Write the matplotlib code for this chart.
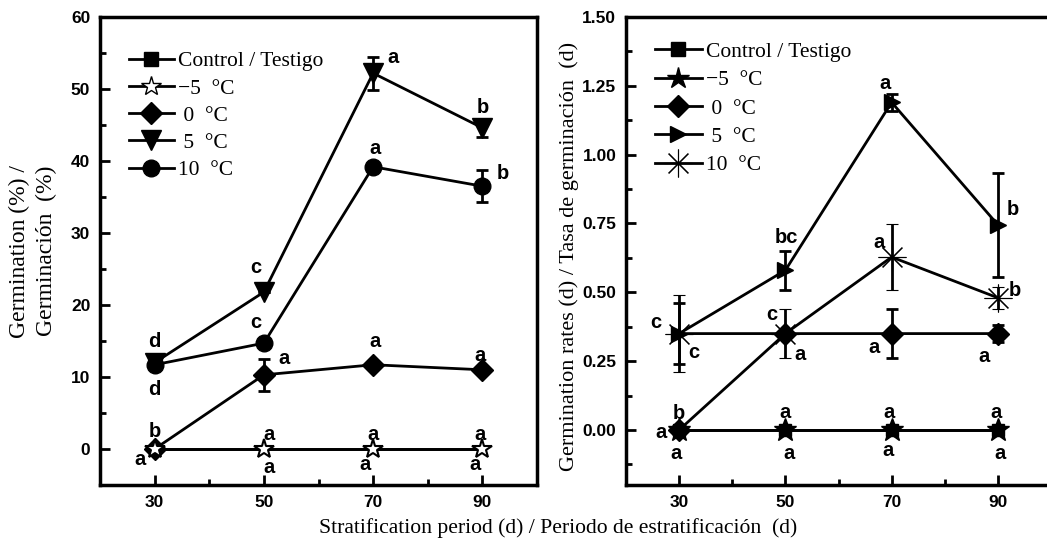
import matplotlib.pyplot as plt
from matplotlib.lines import Line2D
from matplotlib.ticker import MultipleLocator

# stratification period (d)
days = [30, 50, 70, 90]

# germination (%)
g_control = [0, 0, 0, 0]
g_m5 = [0, 0, 0, 0]
g_0 = [0, 10.3, 11.7, 11.0]
g_5 = [12.0, 21.8, 52.2, 44.6]
g_10 = [11.7, 14.7, 39.2, 36.5]
g_0_err = [0, 2.2, 0, 0]
g_5_err = [0, 0, 2.3, 1.2]
g_10_err = [0, 0, 0, 2.2]

# germination rate (d)
r_control = [0, 0, 0, 0]
r_m5 = [0, 0, 0, 0]
r_0 = [0, 0.35, 0.35, 0.35]
r_5 = [0.35, 0.58, 1.19, 0.745]
r_10 = [0.35, 0.35, 0.628, 0.48]
r_0_err = [0, 0, 0.09, 0.03]
r_5_err = [0.11, 0.07, 0.03, 0.19]
r_10_err = [0.14, 0.09, 0.12, 0.04]

legend_labels = ['Control / Testigo', '\u22125  \u00b0C', ' 0  \u00b0C', ' 5  \u00b0C', '10  \u00b0C']

# significance letters (x, y, letter)
g_letters = [(30, 14.9, 'd'), (30, 8.3, 'd'), (30, 2.4, 'b'), (27.4, -1.4, 'a'),
             (48.6, 25.2, 'c'), (48.6, 17.6, 'c'), (53.6, 12.5, 'a'), (51.0, 2.0, 'a'), (51.0, -2.6, 'a'),
             (73.6, 54.4, 'a'), (70.4, 41.8, 'a'), (70.4, 14.9, 'a'), (70.0, 2.0, 'a'), (68.6, -2.1, 'a'),
             (90.0, 47.4, 'b'), (93.8, 38.3, 'b'), (89.6, 13.0, 'a'), (89.6, 2.0, 'a'), (88.7, -2.2, 'a')]
r_letters = [(25.7, 0.39, 'c'), (32.8, 0.28, 'c'), (30.0, 0.06, 'b'), (26.6, -0.01, 'a'), (29.4, -0.085, 'a'),
             (50.2, 0.70, 'bc'), (47.4, 0.42, 'c'), (52.8, 0.275, 'a'), (50.0, 0.065, 'a'), (50.6, -0.085, 'a'),
             (68.7, 1.26, 'a'), (67.7, 0.68, 'a'), (66.6, 0.30, 'a'), (69.5, 0.065, 'a'), (69.3, -0.075, 'a'),
             (92.8, 0.80, 'b'), (93.2, 0.505, 'b'), (87.4, 0.265, 'a'), (89.6, 0.065, 'a'), (90.4, -0.085, 'a')]

serif = 'Liberation Serif'
sans = 'Liberation Sans'

fig = plt.figure(figsize=(10.47, 5.44), dpi=100)
W, H = 1047, 544
ax1 = fig.add_axes([100 / W, 1 - 485 / H, 437 / W, 468 / H])
ax2 = fig.add_axes([626 / W, 1 - 485 / H, 425 / W, 468 / H])

lw = 2
kw = dict(color='black', lw=lw, capsize=4, capthick=2, elinewidth=2)
asterisk = (8, 2, 0)

# left panel
ax1.plot(days, g_control, marker='s', ms=5, color='black', lw=lw, zorder=2)
ax1.plot(days, g_m5, marker='*', ms=15, mfc='white', mec='black', mew=1.5, color='black', lw=lw, zorder=4)
ax1.errorbar(days, g_0, yerr=g_0_err, marker='D', ms=11, zorder=3, **kw)
ax1.errorbar(days, g_5, yerr=g_5_err, marker='v', ms=14, zorder=3, **kw)
ax1.errorbar(days, g_10, yerr=g_10_err, marker='o', ms=12, zorder=3, **kw)

ax1.set_xlim(20, 100)
ax1.set_ylim(-5, 60)
ax1.yaxis.set_major_locator(MultipleLocator(10))
ax1.yaxis.set_minor_locator(MultipleLocator(5))
for x, y, t in g_letters:
    ax1.text(x, y, t, ha='center', va='center', fontsize=14.5, fontweight='bold', family=sans)

h1 = [Line2D([], [], color='black', lw=lw, marker='s', ms=10),
      Line2D([], [], color='black', lw=lw, marker='*', ms=15, mfc='white', mew=1),
      Line2D([], [], color='black', lw=lw, marker='D', ms=11),
      Line2D([], [], color='black', lw=lw, marker='v', ms=14),
      Line2D([], [], color='black', lw=lw, marker='o', ms=12)]

# right panel
ax2.plot(days, r_control, marker='s', ms=9, color='black', lw=lw, zorder=2)
ax2.plot(days, r_m5, marker='*', ms=17, color='black', lw=lw, zorder=4)
ax2.errorbar(days, r_0, yerr=r_0_err, marker='D', ms=11, zorder=3, **kw)
ax2.errorbar(days, r_5, yerr=r_5_err, marker='>', ms=12, zorder=3, **kw)
ax2.errorbar(days, r_10, yerr=r_10_err, marker=asterisk, ms=20, mew=0.8, zorder=3, **kw)

ax2.set_xlim(20, 100)
ax2.set_ylim(-0.2, 1.5)
ax2.yaxis.set_major_locator(MultipleLocator(0.25))
ax2.yaxis.set_minor_locator(MultipleLocator(0.125))
ax2.yaxis.set_major_formatter(plt.FormatStrFormatter('%.2f'))
for x, y, t in r_letters:
    ax2.text(x, y, t, ha='center', va='center', fontsize=14.5, fontweight='bold', family=sans)

h2 = [Line2D([], [], color='black', lw=lw, marker='s', ms=10),
      Line2D([], [], color='black', lw=lw, marker='*', ms=16),
      Line2D([], [], color='black', lw=lw, marker='D', ms=11),
      Line2D([], [], color='black', lw=lw, marker='>', ms=12),
      Line2D([], [], color='black', lw=lw, marker=asterisk, ms=20, mew=0.8)]

for ax in (ax1, ax2):
    ax.set_xticks(days)
    ax.xaxis.set_minor_locator(MultipleLocator(10))
    ax.tick_params(which='both', direction='in', width=2)
    ax.tick_params(which='major', length=7, labelsize=12.5, pad=7)
    ax.tick_params(which='minor', length=4)
    for lab in ax.get_xticklabels() + ax.get_yticklabels():
        lab.set_fontweight('bold')
        lab.set_family(sans)
    for sp in ax.spines.values():
        sp.set_linewidth(2.5)

ax1.legend(h1, legend_labels, loc='upper left', bbox_to_anchor=(0.046, 0.945), frameon=False,
           handlelength=2.1, handletextpad=0.2, labelspacing=0.33, borderaxespad=0,
           prop={'family': serif, 'size': 15.5})
ax2.legend(h2, legend_labels, loc='upper left', bbox_to_anchor=(0.047, 0.966), frameon=False,
           handlelength=2.2, handletextpad=0.2, labelspacing=0.39, borderaxespad=0,
           prop={'family': serif, 'size': 15.5})

fig.text(33 / W, 1 - 251 / H, 'Germination (%) /\nGerminaci\u00f3n  (%)', rotation=90, ha='center',
         va='center', family=serif, fontsize=17, linespacing=1.35)
fig.text(569 / W, 1 - 256 / H, 'Germination rates (d) / Tasa de germinaci\u00f3n  (d)', rotation=90,
         ha='center', va='center', family=serif, fontsize=16)
fig.text(558 / W, 1 - 528 / H, 'Stratification period (d) / Periodo de estratificaci\u00f3n  (d)',
         ha='center', va='center', family=serif, fontsize=15.6)

fig.savefig('out.png', dpi=100)
